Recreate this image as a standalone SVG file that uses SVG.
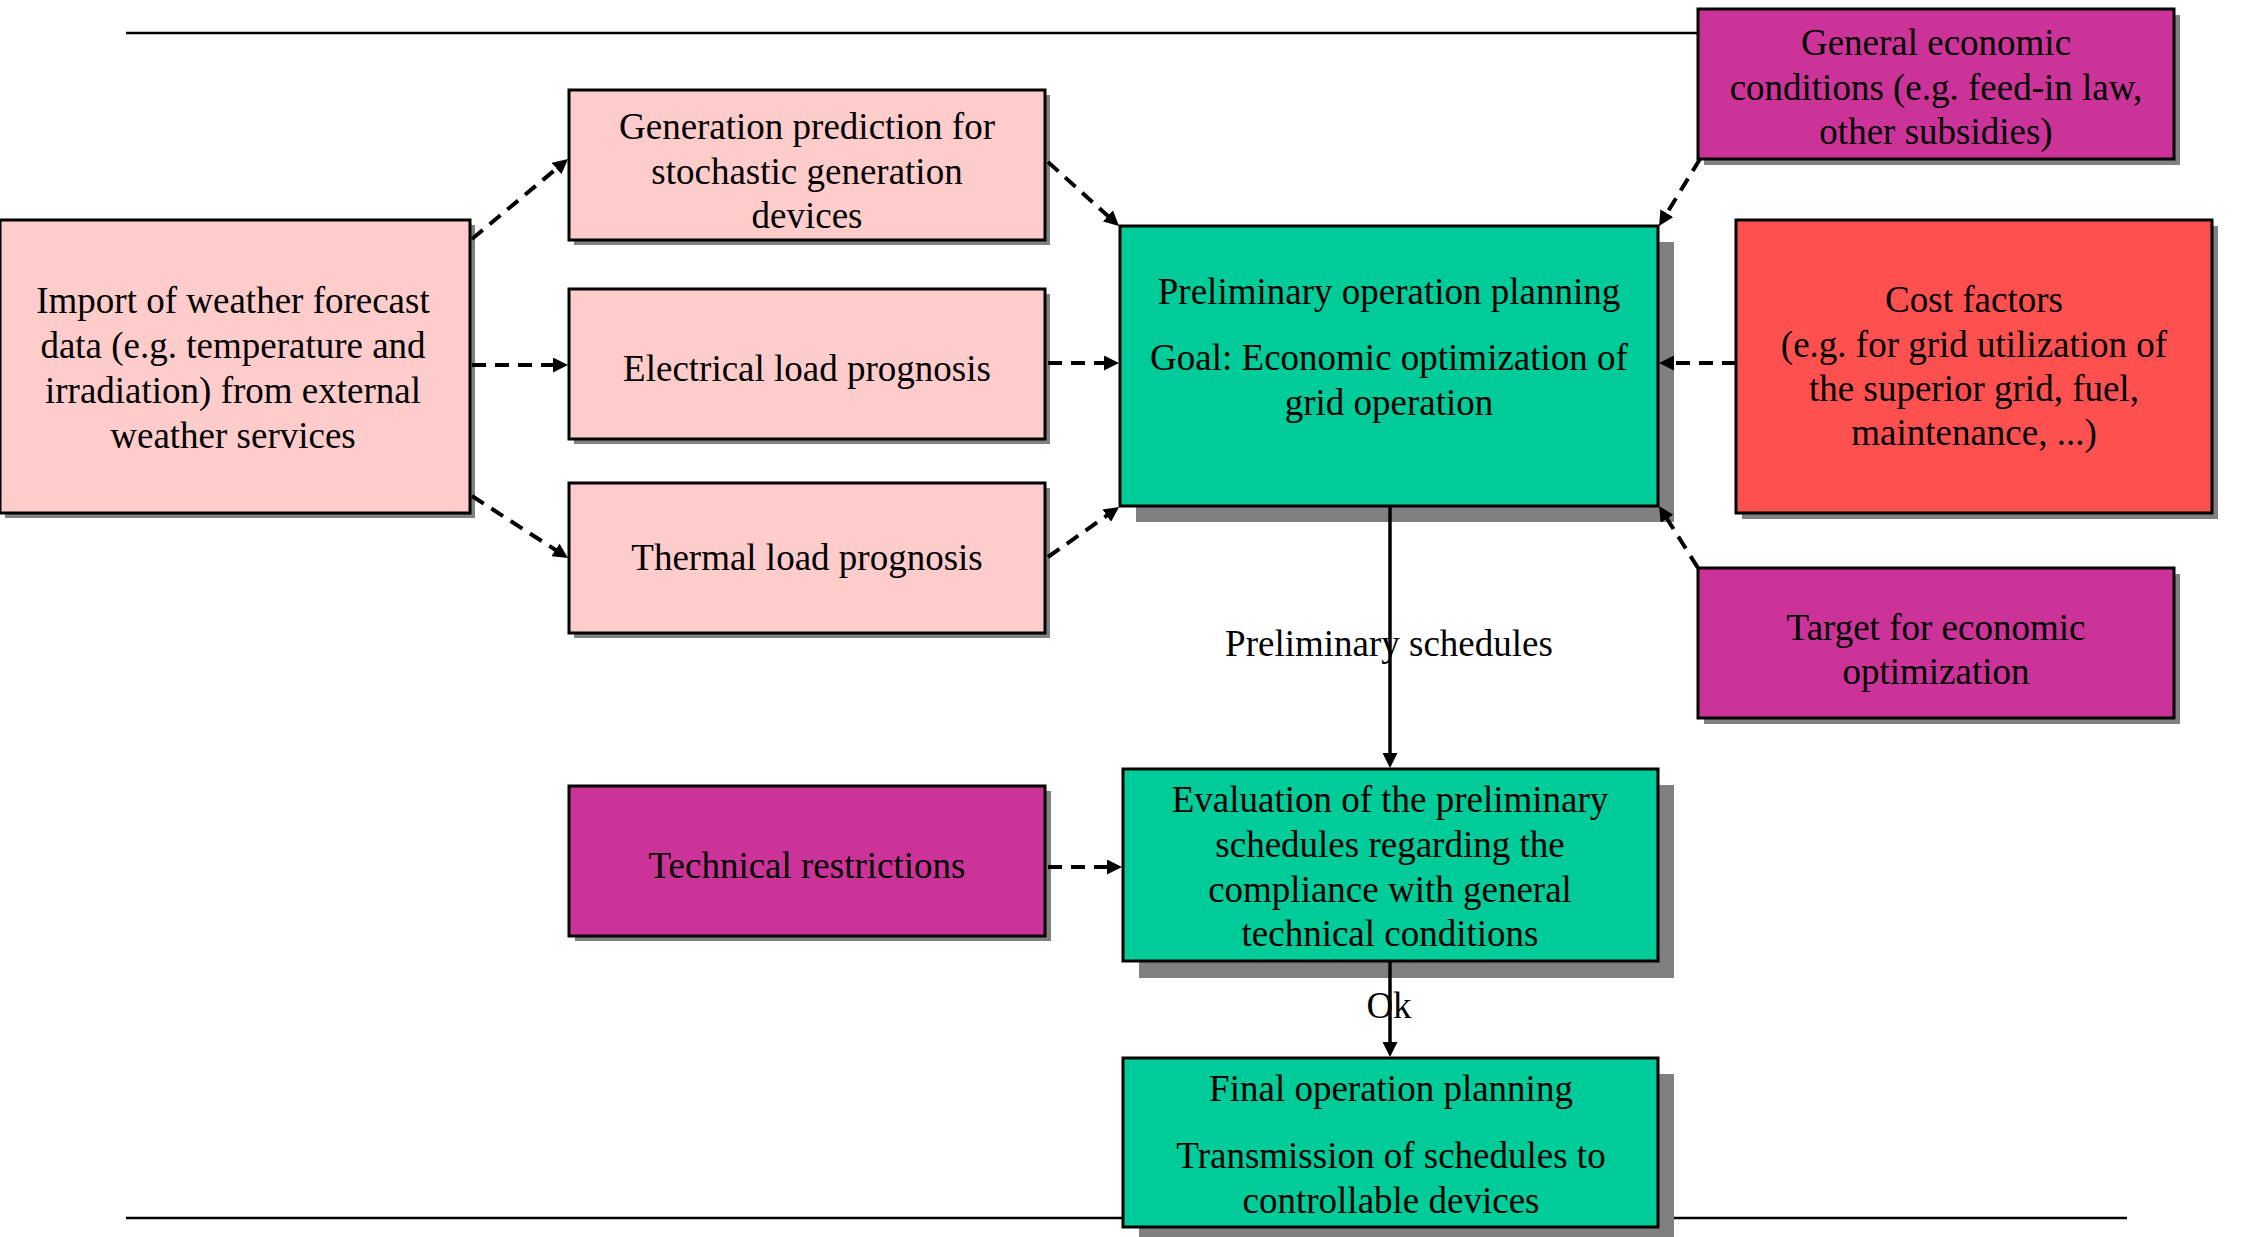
<svg xmlns="http://www.w3.org/2000/svg" width="2241" height="1237" viewBox="0 0 2241 1237">
  <style>
    .box { stroke: #000; stroke-width: 3; }
    .shadow { fill: #808080; }
    .pink { fill: #FFCCCC; }
    .green { fill: #00CC99; }
    .magenta { fill: #CC3399; }
    .red { fill: #FF5050; }
    text { font-family: "Liberation Serif", "Times New Roman", serif; font-size: 37px; fill: #000; text-anchor: middle; }
    .dash { fill: none; stroke: #000; stroke-width: 4; stroke-dasharray: 14 9; marker-end: url(#arrow); }
    .solid { fill: none; stroke: #000; stroke-width: 3.5; marker-end: url(#arrow); }
    .rule { stroke: #000; stroke-width: 2.5; }
  </style>
  <defs>
    <marker id="arrow" markerUnits="userSpaceOnUse" markerWidth="15" markerHeight="15" viewBox="0 0 15 15" refX="7" refY="7.5" orient="auto">
      <path d="M0,0 L15,7.5 L0,15 z" fill="#000"/>
    </marker>
  </defs>

  <rect width="2241" height="1237" fill="#fff"/>

  <!-- horizontal rules -->
  <line class="rule" x1="126" y1="33" x2="1698" y2="33"/>
  <line class="rule" x1="126" y1="1218" x2="2127" y2="1218"/>

  <g id="weather-import">
    <rect class="shadow" x="5" y="225" width="470" height="293"/>
    <rect class="box pink" x="0" y="220" width="470" height="293"/>
    <text x="233" y="313">Import of weather forecast</text>
    <text x="233" y="358">data (e.g. temperature and</text>
    <text x="233" y="403">irradiation) from external</text>
    <text x="233" y="448">weather services</text>
  </g>

  <g id="generation-prediction">
    <rect class="shadow" x="574" y="95" width="476" height="150"/>
    <rect class="box pink" x="569" y="90" width="476" height="150"/>
    <text x="807" y="139">Generation prediction for</text>
    <text x="807" y="184">stochastic generation</text>
    <text x="807" y="228">devices</text>
  </g>

  <g id="electrical-load">
    <rect class="shadow" x="574" y="294" width="476" height="150"/>
    <rect class="box pink" x="569" y="289" width="476" height="150"/>
    <text x="807" y="381">Electrical load prognosis</text>
  </g>

  <g id="thermal-load">
    <rect class="shadow" x="574" y="488" width="476" height="150"/>
    <rect class="box pink" x="569" y="483" width="476" height="150"/>
    <text x="807" y="570">Thermal load prognosis</text>
  </g>

  <g id="preliminary-planning">
    <rect class="shadow" x="1136" y="242" width="538" height="280"/>
    <rect class="box green" x="1120" y="226" width="538" height="280"/>
    <text x="1389" y="304">Preliminary operation planning</text>
    <text x="1389" y="370">Goal: Economic optimization of</text>
    <text x="1389" y="415">grid operation</text>
  </g>

  <g id="economic-conditions">
    <rect class="shadow" x="1704" y="15" width="476" height="150"/>
    <rect class="box magenta" x="1698" y="9" width="476" height="150"/>
    <text x="1936" y="55">General economic</text>
    <text x="1936" y="100">conditions (e.g. feed-in law,</text>
    <text x="1936" y="144">other subsidies)</text>
  </g>

  <g id="cost-factors">
    <rect class="shadow" x="1742" y="226" width="476" height="293"/>
    <rect class="box red" x="1736" y="220" width="476" height="293"/>
    <text x="1974" y="312">Cost factors</text>
    <text x="1974" y="357">(e.g. for grid utilization of</text>
    <text x="1974" y="401">the superior grid, fuel,</text>
    <text x="1974" y="445">maintenance, ...)</text>
  </g>

  <g id="optimization-target">
    <rect class="shadow" x="1704" y="574" width="476" height="150"/>
    <rect class="box magenta" x="1698" y="568" width="476" height="150"/>
    <text x="1936" y="640">Target for economic</text>
    <text x="1936" y="684">optimization</text>
  </g>

  <g id="technical-restrictions">
    <rect class="shadow" x="575" y="791" width="476" height="150"/>
    <rect class="box magenta" x="569" y="786" width="476" height="150"/>
    <text x="807" y="878">Technical restrictions</text>
  </g>

  <g id="schedule-evaluation">
    <rect class="shadow" x="1139" y="785" width="535" height="193"/>
    <rect class="box green" x="1123" y="769" width="535" height="192"/>
    <text x="1390" y="812">Evaluation of the preliminary</text>
    <text x="1390" y="857">schedules regarding the</text>
    <text x="1390" y="902">compliance with general</text>
    <text x="1390" y="946">technical conditions</text>
  </g>

  <g id="final-planning">
    <rect class="shadow" x="1139" y="1074" width="535" height="170"/>
    <rect class="box green" x="1123" y="1058" width="535" height="169"/>
    <text x="1391" y="1101">Final operation planning</text>
    <text x="1391" y="1168">Transmission of schedules to</text>
    <text x="1391" y="1213">controllable devices</text>
  </g>

  <g id="connectors">
    <path class="dash" d="M472,239 L561.9,164.1"/>
    <path class="dash" d="M472,365 L560,365"/>
    <path class="dash" d="M472,496 L561.3,553.7"/>
    <path class="dash" d="M1048,162 L1113.1,220.6"/>
    <path class="dash" d="M1048,363 L1111,363"/>
    <path class="dash" d="M1048,557 L1112.5,511.6"/>
    <path class="dash" d="M1700,159 L1663.2,219.2"/>
    <path class="dash" d="M1736,363 L1667,363"/>
    <path class="dash" d="M1698,568 L1663.3,512.8"/>
    <path class="dash" d="M1048,867 L1114,867"/>
    <path class="solid" d="M1390,506 L1390,760"/>
    <path class="solid" d="M1390,961 L1390,1049"/>
    <text x="1389" y="656">Preliminary schedules</text>
    <text x="1389" y="1018">Ok</text>
  </g>
</svg>
